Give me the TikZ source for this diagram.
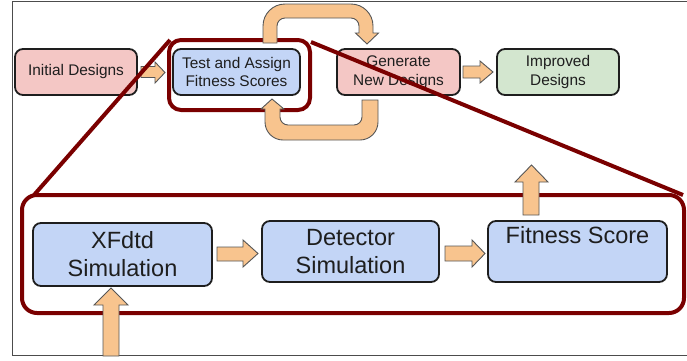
\documentclass[tikz,border=0pt]{standalone}
\usepackage{fontspec}
\setmainfont{Liberation Sans}
\definecolor{pinkf}{HTML}{F4C7C5}
\definecolor{greenf}{HTML}{D3E6CF}
\definecolor{bluef}{HTML}{C3D5F6}
\definecolor{orangef}{HTML}{F8C48E}
\definecolor{dred}{HTML}{7A0000}
\definecolor{edgec}{HTML}{1E1E1E}
\begin{document}
\begin{tikzpicture}[x=1pt,y=-1pt,
  box/.style={draw=edgec, line width=1.8pt, rounded corners=8pt, align=center, text=edgec, inner sep=0pt},
  topbox/.style={box, minimum height=46pt, font=\fontsize{15.4}{18.5}\selectfont},
  lowbox/.style={box, font=\fontsize{23.5}{28}\selectfont},
  blockarr/.style={fill=orangef, draw=edgec!75, line width=0.9pt, line join=miter},
  zoomline/.style={draw=dred, line width=4pt},
  zoomframe/.style={draw=dred, line width=4pt}]
\useasboundingbox (0,0) rectangle (687,360);
\draw[black!70, line width=1pt] (687,1) -- (12,1) -- (12,355) -- (687,355);

% top row
\node[topbox, fill=pinkf, minimum width=122pt] (init) at (76,72) {Initial Designs};
\node[topbox, fill=bluef, minimum width=127pt] (test) at (236.5,72) {Test and Assign\\Fitness Scores};
\node[topbox, fill=pinkf, minimum width=123pt] (gen) at (398.5,72) {Generate\\New Designs};
\node[topbox, fill=greenf, minimum width=122pt] (impr) at (558,72) {Improved\\Designs};

% lower row
\node[lowbox, fill=bluef, minimum width=179pt, minimum height=63pt] (xf) at (122.5,254.5) {XFdtd\\Simulation};
\node[lowbox, fill=bluef, minimum width=177pt, minimum height=61pt] (det) at (350.5,251.5) {Detector\\Simulation};
\node[lowbox, fill=bluef, minimum width=179pt, minimum height=61pt] (fit) at (577.5,251.5) {Fitness Score\\\phantom{g}};

% zoom frames
\draw[zoomframe, rounded corners=15pt] (22,195) rectangle (684,313);
\draw[zoomframe, rounded corners=12pt] (169,40) rectangle (310,110);

% straight block arrows
\filldraw[blockarr] (141,66.5) -- (155,66.5) -- (155,62) -- (165,72.5) -- (155,83) -- (155,77.5) -- (141,77.5) -- cycle;
\filldraw[blockarr] (463,66) -- (480,66) -- (480,61) -- (493,72) -- (480,83) -- (480,78) -- (463,78) -- cycle;
\filldraw[blockarr] (217,247) -- (243,247) -- (243,240) -- (258,253.5) -- (243,267) -- (243,261) -- (217,261) -- cycle;
\filldraw[blockarr] (445,246) -- (472,246) -- (472,240) -- (485,253.5) -- (472,267) -- (472,261) -- (445,261) -- cycle;

% up arrows
\filldraw[blockarr] (523,215) -- (523,182) -- (515,182) -- (531.5,165) -- (548,182) -- (539,182) -- (539,215) -- cycle;
\filldraw[blockarr] (103,356) -- (103,305) -- (94,305) -- (111,288) -- (128,305) -- (119,305) -- (119,356) -- cycle;

% curved loop arrows
\filldraw[blockarr] (263,43) [rounded corners=22pt] -- (263,4) -- (373,4) [sharp corners] -- (373,33) -- (378.5,33) -- (367,44) -- (355.5,33) -- (359,33) [rounded corners=8pt] -- (359,18) -- (277,18) [sharp corners] -- (277,43) -- cycle;
\filldraw[blockarr] (362,100) -- (378,100) [rounded corners=18pt] -- (378,140) -- (265,140) [sharp corners] -- (265,109) -- (261,109) -- (272,99) -- (284,109) -- (280,109) [rounded corners=8pt] -- (280,125) -- (362,125) [sharp corners] -- cycle;

% zoom lines
\coordinate (zl1) at (170,40);
\coordinate (zl2) at (34,195);
\coordinate (zr1) at (311,42);
\coordinate (zr2) at (683,195);
\draw[zoomline] (zl1) -- (zl2);
\draw[zoomline] (zr1) -- (zr2);
\end{tikzpicture}
\end{document}
